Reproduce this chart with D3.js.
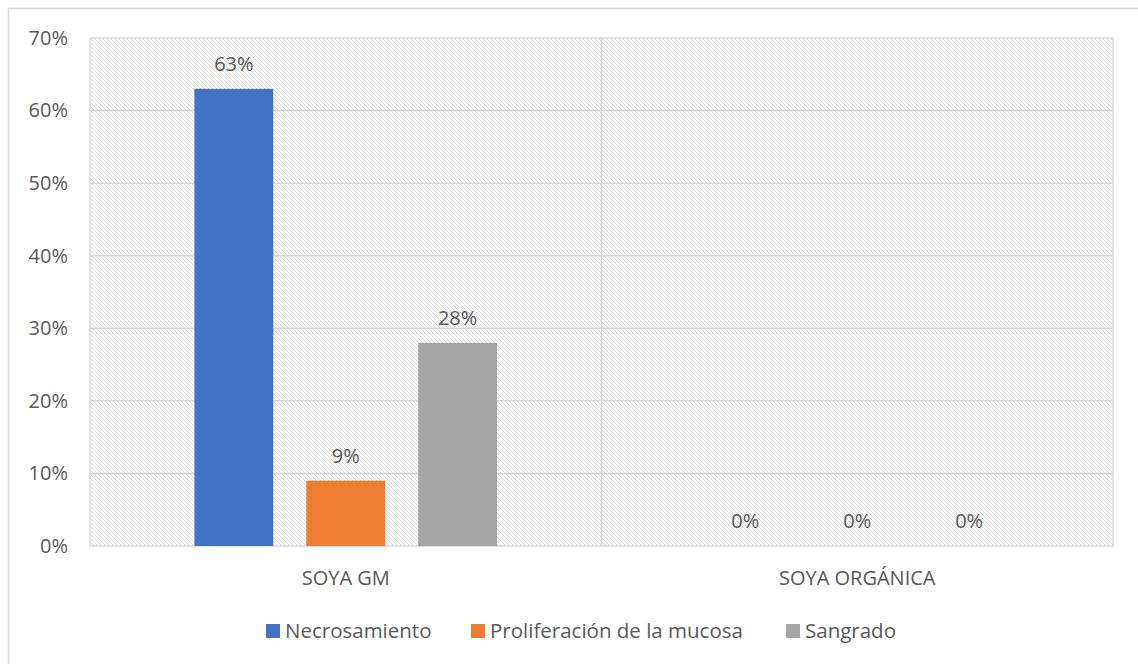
<!DOCTYPE html>
<html><head><meta charset="utf-8">
<script src="https://cdn.jsdelivr.net/npm/d3@7"></script>
<style>body{margin:0;background:#fff}svg{display:block}text{font-family:"Open Sans","Liberation Sans",sans-serif;fill:#595959}</style>
</head><body>
<script>
const categories = ["SOYA GM", "SOYA ORGÁNICA"];
const seriesNames = ["Necrosamiento", "Proliferación de la mucosa", "Sangrado"];
const necrosamiento = [63, 0];
const proliferacion = [9, 0];
const sangrado = [28, 0];
const seriesValues = [necrosamiento, proliferacion, sangrado];
const colors = ["#4472c4", "#ed7d31", "#a5a5a5"];
const yTicks = [0, 10, 20, 30, 40, 50, 60, 70];

const W = 1138, H = 664;
const svg = d3.select("body").append("svg").attr("width", W).attr("height", H);
const defs = svg.append("defs");
const pat = defs.append("pattern").attr("id","hatch").attr("patternUnits","userSpaceOnUse").attr("width",4).attr("height",4);
pat.append("rect").attr("width",4).attr("height",4).attr("fill","#fff");
pat.append("path").attr("d","M-1,-1 L5,5 M-1,3 L1,5 M3,-1 L5,1").attr("stroke","#dadada").attr("stroke-width",1);

svg.append("rect").attr("x",8.5).attr("y",8.5).attr("width",W).attr("height",H).attr("fill","none").attr("stroke","#d9d9d9").attr("stroke-width",1.5);

const L = 90, R = 1113, T = 38, B = 546;
const x = d3.scaleBand().domain(categories).range([L, R]);
const x1 = d3.scaleBand().domain(seriesNames).range([0, x.bandwidth()]).paddingInner(0.295).paddingOuter(0.933);
const y = d3.scaleLinear().domain([0, 70]).range([B, T]);

svg.append("rect").attr("x",L).attr("y",T).attr("width",R-L).attr("height",B-T).attr("fill","url(#hatch)");

svg.append("g").selectAll("line").data(yTicks).join("line")
  .attr("x1",L).attr("x2",R).attr("y1",d=>y(d)).attr("y2",d=>y(d))
  .attr("stroke","#d9d9d9").attr("stroke-width",1.5);
svg.append("g").selectAll("line").data([L, x(categories[1]), R]).join("line")
  .attr("x1",d=>d).attr("x2",d=>d).attr("y1",T).attr("y2",B)
  .attr("stroke","#d9d9d9").attr("stroke-width",1.5);

const yAxis = d3.axisLeft(y).tickValues(yTicks).tickFormat(d=>d+"%").tickSize(0).tickPadding(22);
const ga = svg.append("g").attr("transform",`translate(${L},0)`).call(yAxis);
ga.select(".domain").remove();
ga.selectAll("text").attr("font-size",20).attr("fill","#595959").style("font-family",'"Open Sans","Liberation Sans",sans-serif');

const groups = svg.append("g").selectAll("g").data(categories).join("g")
  .attr("transform",c=>`translate(${x(c)},0)`);
seriesNames.forEach((s, si) => {
  groups.append("rect")
    .attr("x", x1(s)).attr("width", x1.bandwidth())
    .attr("y", (c,ci)=>y(seriesValues[si][ci]))
    .attr("height", (c,ci)=>B - y(seriesValues[si][ci]))
    .attr("fill", colors[si]);
  groups.append("text")
    .attr("x", x1(s) + x1.bandwidth()/2)
    .attr("y", (c,ci)=>y(seriesValues[si][ci]) - 18)
    .attr("text-anchor","middle").attr("font-size",20)
    .text((c,ci)=>seriesValues[si][ci] + "%");
});

svg.append("g").selectAll("text").data(categories).join("text")
  .attr("x",c=>x(c)+x.bandwidth()/2).attr("y",585).attr("text-anchor","middle").attr("font-size",20)
  .text(c=>c);

const legendX = [266, 471, 786];
const lg = svg.append("g").selectAll("g").data(seriesNames).join("g")
  .attr("transform",(d,i)=>`translate(${legendX[i]},624)`);
lg.append("rect").attr("width",14).attr("height",14).attr("fill",(d,i)=>colors[i]);
lg.append("text").attr("x",19).attr("y",14).attr("font-size",20.5).text(d=>d);
</script>
</body></html>
